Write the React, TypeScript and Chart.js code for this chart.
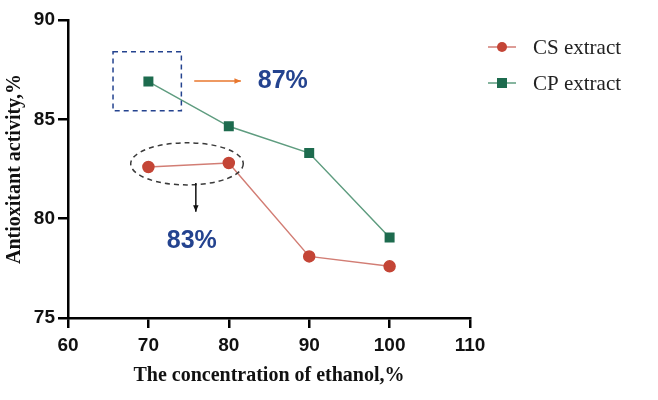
import { useEffect, useRef } from "react"
import { Chart, registerables } from "chart.js"

Chart.register(...registerables)

const concentrations = [70, 80, 90, 100]
const csValues = [82.6, 82.8, 78.1, 77.6]
const cpValues = [86.9, 84.65, 83.3, 79.05]
const xTicks = [60, 70, 80, 90, 100, 110]
const yTicks = [75, 80, 85, 90]

const RED_POINT = "#c44536"
const RED_LINE = "#d27d74"
const GREEN_POINT = "#1d6b4e"
const GREEN_LINE = "#5e9c7f"
const ANNOT_BLUE = "#24438f"

// légende dessinée à la main (ligne + marqueur comme dans l'original)
const legendPlugin = {
  id: "lineLegend",
  afterDraw(chart: Chart) {
    const ctx = chart.ctx
    const items = [
      { label: "CS extract", line: RED_LINE, fill: RED_POINT, shape: "circle", y: 47 },
      { label: "CP extract", line: GREEN_LINE, fill: GREEN_POINT, shape: "square", y: 83 },
    ]
    ctx.save()
    items.forEach((it) => {
      ctx.strokeStyle = it.line
      ctx.lineWidth = 1.5
      ctx.beginPath()
      ctx.moveTo(488, it.y)
      ctx.lineTo(516, it.y)
      ctx.stroke()
      ctx.fillStyle = it.fill
      if (it.shape === "circle") {
        ctx.beginPath()
        ctx.arc(502, it.y, 5, 0, Math.PI * 2)
        ctx.fill()
      } else {
        ctx.fillRect(497, it.y - 5, 10, 10)
      }
      ctx.fillStyle = "#222"
      ctx.font = "21px 'Liberation Serif'"
      ctx.textAlign = "left"
      ctx.textBaseline = "middle"
      ctx.fillText(it.label, 533, it.y + 1)
    })
    ctx.restore()
  },
}

// annotations : cadre, ellipse, flèches et pourcentages
const annotationPlugin = {
  id: "annotations",
  afterDatasetsDraw(chart: Chart) {
    const ctx = chart.ctx
    const x = chart.scales.x
    const y = chart.scales.y
    const px = (v: number) => x.getPixelForValue(v)
    const py = (v: number) => y.getPixelForValue(v)
    ctx.save()

    // cadre pointillé autour du point CP à 70
    ctx.strokeStyle = ANNOT_BLUE
    ctx.lineWidth = 1.5
    ctx.setLineDash([5, 4])
    ctx.strokeRect(px(65.6), py(88.4), px(74.1) - px(65.6), py(85.43) - py(88.4))

    // ellipse pointillée autour des deux premiers points CS
    ctx.strokeStyle = "#3a3a3a"
    ctx.beginPath()
    ctx.ellipse(px(74.8), py(82.76), px(74.8) - px(67.8), py(81.7) - py(82.76), 0, 0, Math.PI * 2)
    ctx.stroke()
    ctx.setLineDash([])

    const drawArrow = (x1: number, y1: number, x2: number, y2: number, color: string) => {
      ctx.strokeStyle = color
      ctx.fillStyle = color
      ctx.lineWidth = 1.5
      ctx.beginPath()
      ctx.moveTo(x1, y1)
      ctx.lineTo(x2, y2)
      ctx.stroke()
      const a = Math.atan2(y2 - y1, x2 - x1)
      ctx.beginPath()
      ctx.moveTo(x2, y2)
      ctx.lineTo(x2 - 7 * Math.cos(a - 0.4), y2 - 7 * Math.sin(a - 0.4))
      ctx.lineTo(x2 - 7 * Math.cos(a + 0.4), y2 - 7 * Math.sin(a + 0.4))
      ctx.closePath()
      ctx.fill()
    }
    drawArrow(px(75.7), py(86.93), px(81.5), py(86.93), "#e8772e")
    drawArrow(px(75.9), py(81.8), px(75.9), py(80.35), "#111")

    ctx.fillStyle = ANNOT_BLUE
    ctx.font = "bold 25px 'Liberation Sans'"
    ctx.textBaseline = "middle"
    ctx.textAlign = "left"
    ctx.fillText("87%", px(83.6), py(86.93))
    ctx.textAlign = "center"
    ctx.fillText("83%", px(75.4), py(78.85))
    ctx.restore()
  },
}

export default function App() {
  const chartRef = useRef<HTMLCanvasElement>(null)
  const chartInstance = useRef<Chart | null>(null)

  useEffect(() => {
    if (!chartRef.current) return
    if (chartInstance.current) chartInstance.current.destroy()
    const ctx = chartRef.current.getContext("2d")
    if (!ctx) return

    chartInstance.current = new Chart(ctx, {
      type: "line",
      data: {
        datasets: [
          {
            label: "CS extract",
            data: concentrations.map((c, i) => ({ x: c, y: csValues[i] })),
            borderColor: RED_LINE,
            backgroundColor: RED_POINT,
            pointBackgroundColor: RED_POINT,
            pointBorderColor: RED_POINT,
            pointStyle: "circle",
            pointRadius: 5.5,
            borderWidth: 1.5,
          },
          {
            label: "CP extract",
            data: concentrations.map((c, i) => ({ x: c, y: cpValues[i] })),
            borderColor: GREEN_LINE,
            backgroundColor: GREEN_POINT,
            pointBackgroundColor: GREEN_POINT,
            pointBorderColor: GREEN_POINT,
            pointStyle: "rect",
            pointRadius: 6,
            borderWidth: 1.5,
          },
        ],
      },
      options: {
        animation: false,
        responsive: true,
        maintainAspectRatio: false,
        layout: { padding: { top: 20, right: 188, left: 0, bottom: 0 } },
        plugins: {
          legend: { display: false },
          tooltip: { enabled: false },
        },
        scales: {
          x: {
            type: "linear",
            min: 60,
            max: 110,
            afterBuildTicks: (scale) => {
              scale.ticks = xTicks.map((v) => ({ value: v }))
            },
            afterFit: (scale) => {
              scale.height = 82
            },
            border: { color: "#000", width: 2.5 },
            grid: { drawOnChartArea: false, drawTicks: true, tickLength: 10, color: "#000", lineWidth: 2.5 },
            ticks: {
              color: "#111",
              padding: 6,
              font: { family: "'Liberation Sans'", size: 19, weight: "bold" },
            },
            title: {
              display: true,
              text: "The concentration of ethanol,%",
              color: "#111",
              padding: { top: 4, bottom: 12 },
              font: { family: "'Liberation Serif'", size: 20, weight: "bold" },
            },
          },
          y: {
            type: "linear",
            min: 75,
            max: 90,
            afterBuildTicks: (scale) => {
              scale.ticks = yTicks.map((v) => ({ value: v }))
            },
            afterFit: (scale) => {
              scale.width = 68
            },
            border: { color: "#000", width: 2.5 },
            grid: { drawOnChartArea: false, drawTicks: true, tickLength: 10, color: "#000", lineWidth: 2.5 },
            ticks: {
              color: "#111",
              padding: 3,
              font: { family: "'Liberation Sans'", size: 19, weight: "bold" },
            },
            title: {
              display: true,
              text: "Antioxitant activity,%",
              color: "#111",
              padding: { top: 3, bottom: 0 },
              font: { family: "'Liberation Serif'", size: 20, weight: "bold" },
            },
          },
        },
      },
      plugins: [legendPlugin, annotationPlugin],
    })

    return () => {
      if (chartInstance.current) {
        chartInstance.current.destroy()
        chartInstance.current = null
      }
    }
  }, [])

  return (
    <div style={{ position: "fixed", left: 0, top: 0, width: 658, height: 400, background: "#fff" }}>
      <canvas ref={chartRef}></canvas>
    </div>
  )
}
